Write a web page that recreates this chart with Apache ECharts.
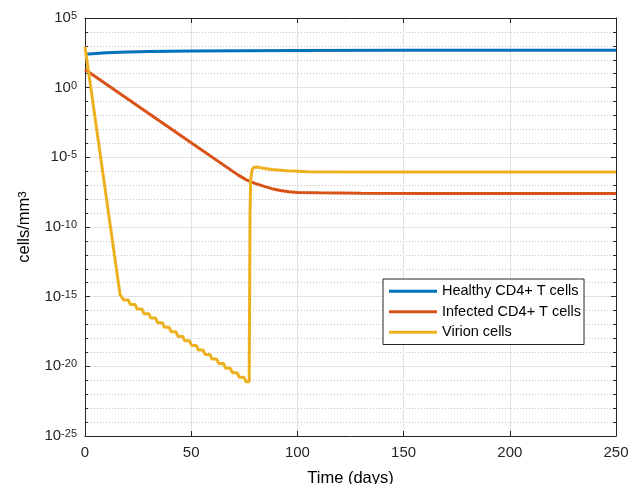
<!DOCTYPE html>
<html>
<head>
<meta charset="utf-8">
<script src="https://cdn.jsdelivr.net/npm/echarts@6/dist/echarts.min.js"></script>
<style>
html,body{margin:0;padding:0;background:#fff;}
#chart{width:628px;height:484px;}
</style>
</head>
<body>
<div id="chart"></div>
<script>
// Values are given as base-10 exponents (value = 10^exp), cells/mm^3
var seriesNames = ['Healthy CD4+ T cells', 'Infected CD4+ T cells', 'Virion cells'];

var healthyT   = [0, 5, 10, 20, 30, 50, 75, 100, 150, 200, 250];
var healthyExp = [2.40, 2.46, 2.50, 2.56, 2.59, 2.63, 2.65, 2.67, 2.68, 2.68, 2.68];

var infectedT   = [0, 50, 72, 76, 80, 84, 88, 92, 96, 100, 110, 130, 160, 250];
var infectedExp = [1.30, -3.95, -6.26, -6.62, -6.87, -7.07, -7.25, -7.38, -7.47, -7.52, -7.55, -7.58, -7.59, -7.59];

var virionT = [0, 16.5,
  18.2, 20.4, 21.4, 23.6, 24.6, 26.8, 27.8, 30.0, 31.0, 33.2, 34.2, 36.4,
  37.4, 39.6, 40.6, 42.8, 43.8, 46.0, 47.0, 49.2, 50.2, 52.4, 53.4, 55.6,
  56.6, 58.8, 59.8, 62.0, 63.0, 65.2, 66.2, 68.4, 69.4, 71.6, 72.6, 74.8,
  75.8, 77.3,
  77.5, 77.7, 78.0, 78.6, 79.5, 81, 84, 88, 95, 105, 130, 250];
var virionExp = [2.94, -14.85,
  -15.24, -15.24, -15.57, -15.57, -15.89, -15.89, -16.22, -16.22, -16.54, -16.54, -16.87, -16.87,
  -17.20, -17.20, -17.52, -17.52, -17.85, -17.85, -18.17, -18.17, -18.50, -18.50, -18.83, -18.83,
  -19.15, -19.15, -19.48, -19.48, -19.80, -19.80, -20.13, -20.13, -20.46, -20.46, -20.78, -20.78,
  -21.11, -21.11,
  -15.0, -9.0, -6.6, -5.9, -5.72, -5.70, -5.78, -5.88, -5.97, -6.03, -6.06, -6.06];

var xTicks = [0, 50, 100, 150, 200, 250];
var yTickExps = [-25, -20, -15, -10, -5, 0, 5];

var colors = ['#0072BD', '#D95319', '#EDB120'];
var FONT = '"Liberation Sans", Arial, Helvetica, sans-serif';
var AX = '#262626';

function pairs(t, v) { return t.map(function (x, i) { return [x, v[i]]; }); }

var chart = echarts.init(document.getElementById('chart'), null, {renderer: 'canvas'});

var yRich = {
  b: {fontSize: 15, fontFamily: FONT, color: AX, lineHeight: 15, padding: [6, 0, 0, 0], verticalAlign: 'bottom'},
  s: {fontSize: 11, fontFamily: FONT, color: AX, lineHeight: 11, verticalAlign: 'top'}
};

var option = {
  animation: false,
  color: colors,
  grid: {left: 85, right: 12, top: 18, bottom: 48, containLabel: false, outerBoundsMode: 'none'},
  legend: {
    orient: 'vertical',
    left: 383, top: 279,
    data: seriesNames,
    icon: 'rect',
    itemWidth: 48, itemHeight: 3,
    itemGap: 4,
    padding: [4, 3, 4, 6],
    backgroundColor: '#ffffff',
    borderColor: AX, borderWidth: 1, borderRadius: 0,
    textStyle: {fontSize: 14.5, fontFamily: FONT, color: '#000', lineHeight: 16.5}
  },
  xAxis: [{
    type: 'value', position: 'bottom',
    min: xTicks[0], max: xTicks[xTicks.length - 1], interval: 50,
    name: 'Time (days)', nameLocation: 'middle', nameGap: 34,
    nameTextStyle: {fontSize: 16.5, fontFamily: FONT, color: '#000'},
    axisLine: {show: true, onZero: false, lineStyle: {color: AX, width: 1}},
    axisTick: {show: true, inside: true, length: 5, lineStyle: {color: AX}},
    axisLabel: {fontSize: 15, fontFamily: FONT, color: AX, margin: 9},
    splitLine: {show: true, lineStyle: {color: '#e1e1e1', width: 1}}
  }, {
    type: 'value', position: 'top',
    min: xTicks[0], max: xTicks[xTicks.length - 1], interval: 50,
    axisLine: {show: true, onZero: false, lineStyle: {color: AX, width: 1}},
    axisTick: {show: true, inside: true, length: 5, lineStyle: {color: AX}},
    axisLabel: {show: false},
    splitLine: {show: false}
  }],
  yAxis: [{
    type: 'value', position: 'left',
    min: yTickExps[0], max: yTickExps[yTickExps.length - 1], interval: 5,
    name: '{n|cells/mm}{s|3}', nameLocation: 'middle', nameGap: 52, nameRotate: 90,
    nameTextStyle: {
      rich: {
        n: {fontSize: 16.5, fontFamily: FONT, color: '#000', lineHeight: 16.5, padding: [6, 0, 0, 0], verticalAlign: 'bottom'},
        s: {fontSize: 11.5, fontFamily: FONT, color: '#000', lineHeight: 11.5, verticalAlign: 'top'}
      }
    },
    axisLine: {show: true, onZero: false, lineStyle: {color: AX, width: 1}},
    axisTick: {show: true, inside: true, length: 5, lineStyle: {color: AX}},
    minorTick: {show: true, splitNumber: 5, length: 3, lineStyle: {color: AX}},
    axisLabel: {
      margin: 8,
      formatter: function (v) { return '{b|10}{s|' + v + '}'; },
      rich: yRich
    },
    splitLine: {show: true, lineStyle: {color: '#e1e1e1', width: 1}},
    minorSplitLine: {show: true, lineStyle: {color: '#c4c4c4', width: 1, type: [1, 2]}}
  }, {
    type: 'value', position: 'right',
    min: yTickExps[0], max: yTickExps[yTickExps.length - 1], interval: 5,
    axisLine: {show: true, onZero: false, lineStyle: {color: AX, width: 1}},
    axisTick: {show: true, inside: true, length: 5, lineStyle: {color: AX}},
    minorTick: {show: true, splitNumber: 5, length: 3, lineStyle: {color: AX}},
    axisLabel: {show: false},
    splitLine: {show: false},
    minorSplitLine: {show: false}
  }],
  series: [{
    name: seriesNames[0], type: 'line', showSymbol: false, symbol: 'none',
    xAxisIndex: 0, yAxisIndex: 0,
    lineStyle: {width: 3, color: colors[0]},
    data: pairs(healthyT, healthyExp)
  }, {
    name: seriesNames[1], type: 'line', showSymbol: false, symbol: 'none',
    xAxisIndex: 0, yAxisIndex: 0,
    lineStyle: {width: 3, color: colors[1]},
    data: pairs(infectedT, infectedExp)
  }, {
    name: seriesNames[2], type: 'line', showSymbol: false, symbol: 'none',
    xAxisIndex: 0, yAxisIndex: 0,
    lineStyle: {width: 3, color: colors[2]},
    data: pairs(virionT, virionExp)
  }]
};
chart.setOption(option);
</script>
</body>
</html>
